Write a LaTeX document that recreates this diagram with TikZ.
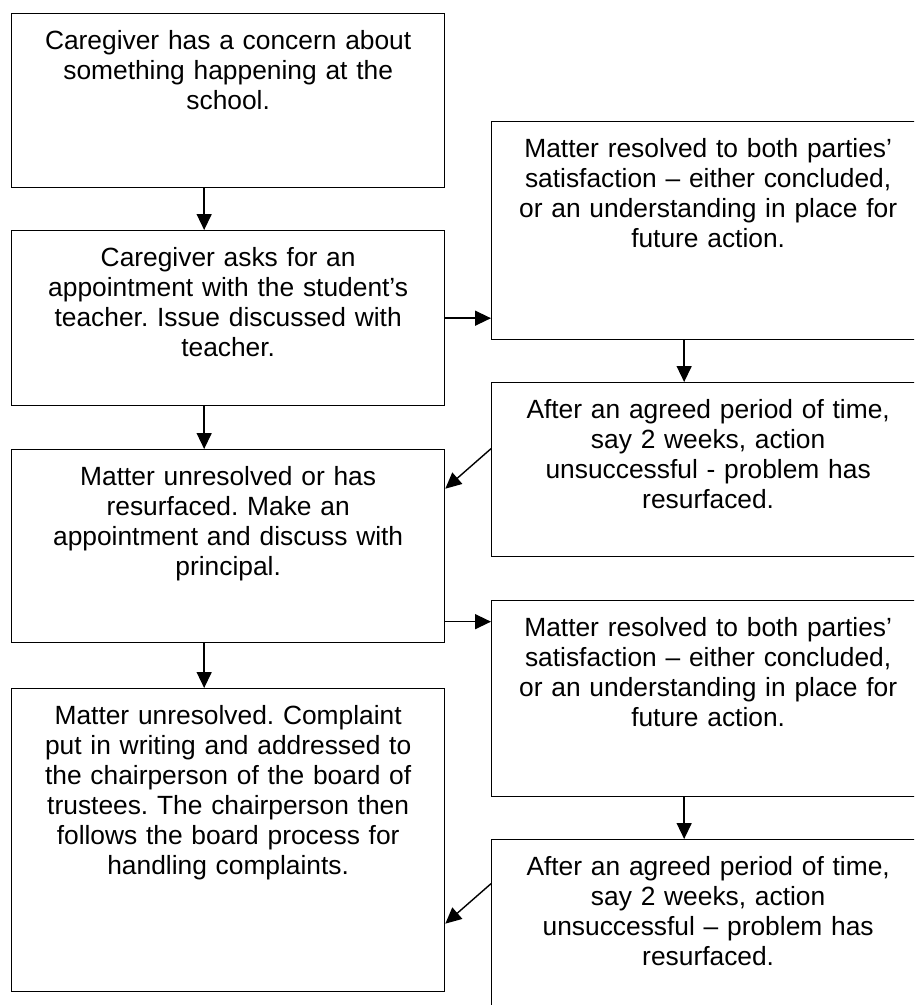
\documentclass[tikz,border=0pt]{standalone}
\usepackage{fontspec}
\setmainfont{Liberation Sans}
\usetikzlibrary{arrows.meta}
\frenchspacing

\tikzset{
  box/.style={draw, line width=0.8pt, anchor=north west, inner sep=0pt,
    text width=8.66cm, align=center, text height=0.72cm,
    font=\fontsize{15}{17.1}\selectfont},
  arr/.style={line width=0.8pt, -{Triangle[length=0.32cm,width=0.3cm]}}
}

\begin{document}
\begin{tikzpicture}[x=0.02cm,y=-0.02cm]
  \useasboundingbox (0,0) rectangle (914,1005);
  \clip (0,0) rectangle (914,1005);
  % left column
  \node[box, text depth=2.76cm] (concern) at (11,13)
    {Caregiver has a concern about\\ something happening at the\\ school.};
  \node[box, text depth=2.78cm] (teacher) at (11,230)
    {Caregiver asks for an\\ appointment with the student’s\\ teacher. Issue discussed with\\ teacher.};
  \node[box, text depth=3.14cm] (principal) at (11,449)
    {Matter unresolved or has\\ resurfaced. Make an\\ appointment and discuss with\\ principal.};
  \node[box, text depth=5.34cm] (trustees) at (11,688)
    {Matter unresolved. Complaint\\ put in writing and addressed to\\ the chairperson of the board of\\ trustees. The chairperson then\\ follows the board process for\\ handling complaints.};
  % right column
  \node[box, text depth=3.64cm] (resolveda) at (491,121)
    {Matter resolved to both parties’\\ satisfaction – either concluded,\\ or an understanding in place for\\ future action.};
  \node[box, text depth=2.76cm] (rechecka) at (491,382)
    {After an agreed period of time,\\ say 2 weeks, action\\ unsuccessful - problem has\\ resurfaced.};
  \node[box, text depth=3.2cm] (resolvedb) at (491,600)
    {Matter resolved to both parties’\\ satisfaction – either concluded,\\ or an understanding in place for\\ future action.};
  \node[box, text depth=4cm] (recheckb) at (491,839)
    {After an agreed period of time,\\ say 2 weeks, action\\ unsuccessful – problem has\\ resurfaced.};
  % down arrows
  \draw[arr] ([xshift=-0.48cm]concern.south) -- ([xshift=-0.48cm]teacher.north);
  \draw[arr] ([xshift=-0.48cm]teacher.south) -- ([xshift=-0.48cm]principal.north);
  \draw[arr] ([xshift=-0.48cm]principal.south) -- ([xshift=-0.48cm]trustees.north);
  \draw[arr] ([xshift=-0.48cm]resolveda.south) -- ([xshift=-0.48cm]rechecka.north);
  \draw[arr] ([xshift=-0.48cm]resolvedb.south) -- ([xshift=-0.48cm]recheckb.north);
  % across and back
  \draw[arr] (teacher.east) -- (teacher.east -| resolveda.west);
  \draw[arr] ([yshift=-1.51cm]principal.east) -- ([yshift=-1.51cm]principal.east -| resolvedb.west);
  \draw[arr] ([yshift=0.42cm]rechecka.west) -- ([yshift=1.15cm]principal.east);
  \draw[arr] ([yshift=1.48cm]recheckb.west) -- ([yshift=-1.67cm]trustees.east);
\end{tikzpicture}
\end{document}
